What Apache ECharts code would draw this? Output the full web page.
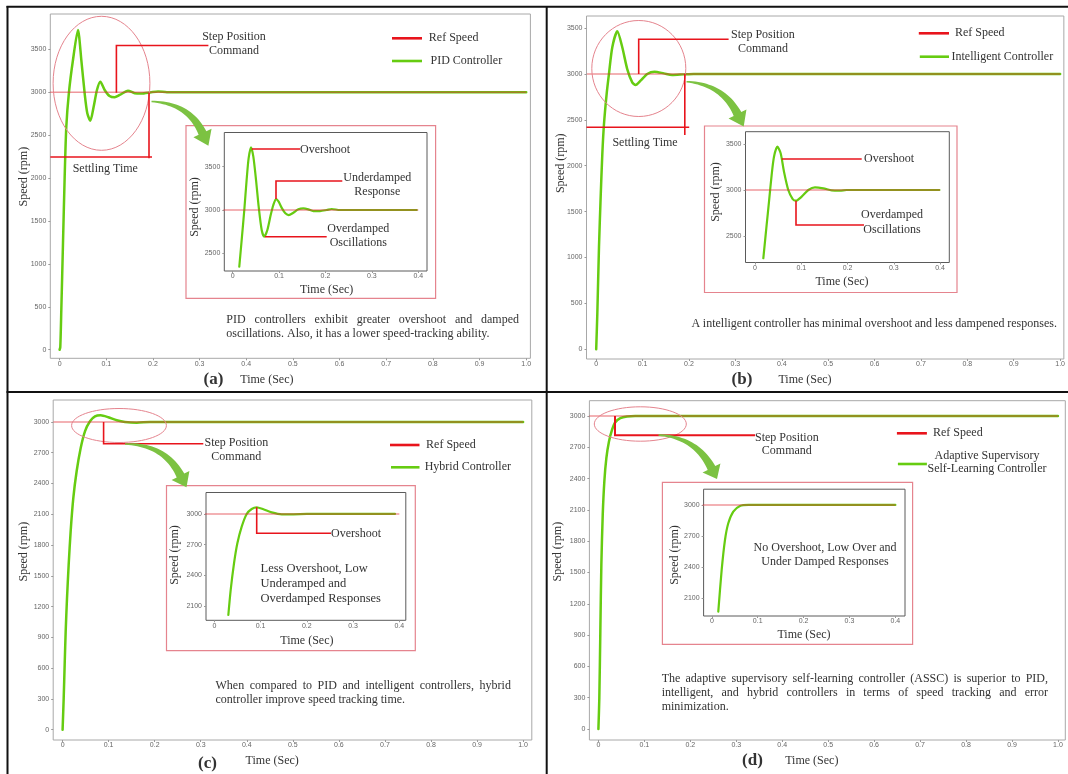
<!DOCTYPE html>
<html><head><meta charset="utf-8">
<script src="https://cdn.jsdelivr.net/npm/echarts@6/dist/echarts.min.js"></script>
<style>html,body{margin:0;padding:0;background:#fff}#c{width:1068px;height:774px}</style>
</head><body><div id="c"></div>
<script>
// ---------------- data ----------------
const speedTicksAB = [0, 500, 1000, 1500, 2000, 2500, 3000, 3500];
const speedTicksCD = [0, 300, 600, 900, 1200, 1500, 1800, 2100, 2400, 2700, 3000];
const insetTicksAB = [2500, 3000, 3500];
const insetTicksCD = [2100, 2400, 2700, 3000];
const timeTicks = [0, 0.1, 0.2, 0.3, 0.4, 0.5, 0.6, 0.7, 0.8, 0.9, 1.0];
const insetTimeTicks = [0, 0.1, 0.2, 0.3, 0.4];

const refTime = [-0.02, 1.0];
const refInsetTime = [-0.02, 0.4];
const refSpeed = [3000, 3000];

const pidTime = [0, 0.0015, 0.0037, 0.0073, 0.0109, 0.0144, 0.0201, 0.0287, 0.0394, 0.0466, 0.0537, 0.0594, 0.0659, 0.073, 0.0801, 0.0873, 0.0966, 0.107, 0.118, 0.1288, 0.1466, 0.161, 0.175, 0.1966, 0.211, 0.23, 1.0];
const pidSpeed = [0, 30, 462, 1240, 2016, 2598, 3000, 3375, 3725, 3375, 2988, 2754, 2668, 2831, 3026, 3123, 3026, 2956, 2941, 2968, 3018, 2988, 2985, 3000, 3008, 3000, 3000];
const pidInsetTime = [0.0142, 0.020, 0.025, 0.030, 0.0343, 0.0395, 0.0445, 0.0503, 0.056, 0.0625, 0.068, 0.0747, 0.0819, 0.0876, 0.0934, 0.099, 0.1063, 0.1135, 0.1207, 0.1307, 0.1415, 0.1523, 0.163, 0.1738, 0.1882, 0.2026, 0.2134, 0.231, 0.3966];
const pidInsetSpeed = [2345, 2692, 3000, 3346, 3597, 3724, 3616, 3346, 3038, 2769, 2692, 2769, 2942, 3058, 3127, 3096, 3019, 2962, 2942, 2969, 3008, 3019, 3008, 2988, 2988, 3000, 3012, 3000, 3000];

const intTime = [0, 0.0024, 0.006, 0.0096, 0.0132, 0.0168, 0.0225, 0.0275, 0.0347, 0.0455, 0.0562, 0.0669, 0.0777, 0.0849, 0.0956, 0.11, 0.1257, 0.1458, 0.1636, 0.1888, 0.21, 1.0];
const intSpeed = [0, 385, 1111, 1656, 2127, 2454, 2781, 2999, 3290, 3464, 3290, 3053, 2908, 2879, 2926, 2999, 3024, 3006, 2988, 2995, 3000, 3000];
const intInsetTime = [0.018, 0.0252, 0.0303, 0.036, 0.0411, 0.0483, 0.0555, 0.0627, 0.072, 0.0815, 0.0886, 0.101, 0.1153, 0.1297, 0.1477, 0.1658, 0.1838, 0.198, 0.3986];
const intInsetSpeed = [2258, 2620, 2873, 3163, 3362, 3471, 3399, 3199, 3000, 2902, 2884, 2928, 3000, 3029, 3018, 2996, 2993, 3000, 3000];

const hybTime = [0, 0.0024, 0.0045, 0.0067, 0.0096, 0.0132, 0.0175, 0.0233, 0.0305, 0.0393, 0.0486, 0.0595, 0.0704, 0.0827, 0.0993, 0.1175, 0.1355, 0.161, 0.19, 1.0];
const hybSpeed = [0, 309, 634, 959, 1284, 1609, 1934, 2259, 2519, 2746, 2909, 3007, 3055, 3065, 3046, 3017, 3000, 2993, 3000, 3000];
const hybInsetTime = [0.0303, 0.0354, 0.0426, 0.0498, 0.0592, 0.070, 0.0808, 0.0917, 0.106, 0.124, 0.1457, 0.171, 0.2, 0.3907];
const hybInsetSpeed = [2012, 2257, 2518, 2713, 2876, 3000, 3049, 3065, 3046, 3016, 2997, 2997, 3000, 3000];

const asscTime = [0, 0.002, 0.0042, 0.0064, 0.0094, 0.0129, 0.0173, 0.023, 0.0296, 0.0368, 0.0477, 0.0622, 0.08, 1.0];
const asscSpeed = [0, 297, 936, 1574, 2053, 2373, 2596, 2756, 2867, 2941, 2980, 2996, 3000, 3000];
const asscInsetTime = [0.014, 0.0214, 0.0286, 0.0358, 0.0467, 0.0613, 0.08, 0.40];
const asscInsetSpeed = [1971, 2373, 2662, 2823, 2936, 2990, 3000, 3000];

// ---------------- styles / layout ----------------
const SERIF = '"Liberation Serif", "Times New Roman", serif';
const TXT = '#333';
const RED = '#e8141c';
const GREEN = '#66cc11';
const PINK = '#e5848e';
const ARROW = '#7cc242';

const panels = [
  { main: [50.3, 14, 530.4, 358.3], mx: [-0.0199, 1.009], my: [-100, 3911], mt: speedTicksAB,
    inset: [224.3, 132.5, 427, 271], ix: [-0.0181, 0.4188], iy: [2296, 3895], it: insetTicksAB,
    t: pidTime, v: pidSpeed, ti: pidInsetTime, vi: pidInsetSpeed },
  { main: [586.5, 16, 1065, 359], mx: [-0.0209, 1.008], my: [-106, 3631], mt: speedTicksAB,
    inset: [745.5, 131.7, 949.3, 262.5], ix: [-0.0205, 0.420], iy: [2212, 3634], it: insetTicksAB,
    t: intTime, v: intSpeed, ti: intInsetTime, vi: intInsetSpeed },
  { main: [53.2, 400, 531.8, 740], mx: [-0.0204, 1.0189], my: [-100, 3214], mt: speedTicksCD,
    inset: [206, 492.5, 405.8, 620.3], ix: [-0.018, 0.414], iy: [1960, 3210], it: insetTicksCD,
    t: hybTime, v: hybSpeed, ti: hybInsetTime, vi: hybInsetSpeed },
  { main: [589.4, 400.7, 1065.3, 740], mx: [-0.0196, 1.016], my: [-105, 3147], mt: speedTicksCD,
    inset: [703.6, 489.2, 905, 616], ix: [-0.018, 0.421], iy: [1929, 3152], it: insetTicksCD,
    t: asscTime, v: asscSpeed, ti: asscInsetTime, vi: asscInsetSpeed }
];

const zip = (a, b) => a.map((x, i) => [x, b[i]]);
const fmtTime = v => (v === 0 ? '0' : v.toFixed(1));
const fmtSpeed = v => String(Math.round(v));

const grids = [], xAxes = [], yAxes = [], series = [];
function addGrid(box, xr, yr, xt, yt, border) {
  const idx = grids.length;
  grids.push({ left: box[0], top: box[1], width: box[2] - box[0], height: box[3] - box[1],
    show: true, borderColor: border, borderWidth: 1, backgroundColor: 'transparent' });
  const lab = { fontSize: 7, color: '#666', fontFamily: '"Liberation Sans", Arial, sans-serif' };
  xAxes.push({ type: 'value', gridIndex: idx, min: xr[0], max: xr[1],
    axisLine: { show: false, onZero: false }, splitLine: { show: false },
    axisTick: { show: true, customValues: xt, length: 2, lineStyle: { color: '#999' } },
    axisLabel: Object.assign({ customValues: xt, formatter: fmtTime, margin: 2 }, lab) });
  yAxes.push({ type: 'value', gridIndex: idx, min: yr[0], max: yr[1],
    axisLine: { show: false, onZero: false }, splitLine: { show: false },
    axisTick: { show: true, customValues: yt, length: 2, lineStyle: { color: '#999' } },
    axisLabel: Object.assign({ customValues: yt, formatter: fmtSpeed, margin: 4 }, lab) });
  return idx;
}
function addLines(idx, t, v, rt, width) {
  series.push({ type: 'line', xAxisIndex: idx, yAxisIndex: idx, data: zip(t, v), showSymbol: false,
    smooth: 0.25, clip: true, silent: true, z: 2,
    lineStyle: { color: GREEN, width: width, join: 'round', cap: 'round' }, itemStyle: { color: GREEN } });
  series.push({ type: 'line', xAxisIndex: idx, yAxisIndex: idx, data: zip(rt, refSpeed), showSymbol: false,
    clip: true, silent: true, z: 3,
    lineStyle: { color: '#e0303a', width: 1.5, opacity: 0.5 }, itemStyle: { color: RED } });
}
panels.forEach(p => {
  const m = addGrid(p.main, p.mx, p.my, timeTicks, p.mt, '#a8a8a8');
  addLines(m, p.t, p.v, refTime, 2.5);
  const n = addGrid(p.inset, p.ix, p.iy, insetTimeTicks, p.it, '#5a5a5a');
  addLines(n, p.ti, p.vi, refInsetTime, 2.2);
});

// ---------------- graphic helpers ----------------
const G = [];
const mctx = document.createElement('canvas').getContext('2d');
function tw(s, size, weight) { mctx.font = (weight || 'normal') + ' ' + size + 'px "Liberation Serif"'; return mctx.measureText(s).width; }
function text(s, x, y, size, align, opts) {
  opts = opts || {};
  G.push({ type: 'text', x: x, y: y, rotation: opts.rot || 0, z: 100,
    style: { text: s, fill: TXT, fontSize: size, fontFamily: SERIF, fontWeight: opts.bold ? 'bold' : 'normal',
      align: align || 'center', verticalAlign: 'middle' } });
}
function justify(s, x0, x1, y, size) {
  const words = s.split(' ');
  const ws = words.map(w => tw(w, size));
  const total = ws.reduce((a, b) => a + b, 0);
  const gap = (x1 - x0 - total) / (words.length - 1);
  let x = x0;
  words.forEach((w, i) => { text(w, x, y, size, 'left'); x += ws[i] + gap; });
}
function poly(points, color, width) {
  G.push({ type: 'polyline', z: 100, shape: { points: points }, style: { stroke: color, lineWidth: width, fill: null } });
}
function box(b, color, width) {
  G.push({ type: 'rect', z: 90, shape: { x: b[0], y: b[1], width: b[2] - b[0], height: b[3] - b[1] },
    style: { fill: null, stroke: color, lineWidth: width } });
}
function ellipse(cx, cy, rx, ry) {
  G.push({ type: 'ellipse', z: 100, shape: { cx: cx, cy: cy, rx: rx, ry: ry }, style: { fill: null, stroke: PINK, lineWidth: 1 } });
}
function arrow(S, E, T, w0, w1, hw) {
  const dx = T[0] - E[0], dy = T[1] - E[1], dl = Math.hypot(dx, dy);
  const ux = dx / dl, uy = dy / dl;
  const k = Math.hypot(E[0] - S[0], E[1] - S[1]) * 0.55;
  const C = [E[0] - ux * k, E[1] - uy * k];
  const L = [], R = [], N = 24;
  for (let i = 0; i <= N; i++) {
    const u = i / N;
    const px = (1 - u) * (1 - u) * S[0] + 2 * (1 - u) * u * C[0] + u * u * E[0];
    const py = (1 - u) * (1 - u) * S[1] + 2 * (1 - u) * u * C[1] + u * u * E[1];
    const tx = 2 * (1 - u) * (C[0] - S[0]) + 2 * u * (E[0] - C[0]);
    const ty = 2 * (1 - u) * (C[1] - S[1]) + 2 * u * (E[1] - C[1]);
    const tl = Math.hypot(tx, ty);
    const nx = -ty / tl, ny = tx / tl, w = (w0 + (w1 - w0) * u) / 2;
    L.push([px + nx * w, py + ny * w]); R.push([px - nx * w, py - ny * w]);
  }
  const nx = -uy, ny = ux;
  const pts = L.concat([[E[0] + nx * hw, E[1] + ny * hw], T, [E[0] - nx * hw, E[1] - ny * hw]], R.reverse());
  G.push({ type: 'polygon', z: 110, shape: { points: pts }, style: { fill: ARROW, stroke: null } });
}
function legend(x0, x1, y1, y2, gx0, label1x, label2, label2x) {
  poly([[x0, y1], [x1, y1]], RED, 2.6);
  poly([[gx0, y2], [x1, y2]], GREEN, 2.6);
  text('Ref Speed', label1x, y1, 12, 'left');
  if (label2) text(label2, label2x, y2, 12, 'left');
}

// ---------------- frame ----------------
G.push({ type: 'line', z: 120, shape: { x1: 6.5, y1: 6.7, x2: 1068, y2: 6.7 }, style: { stroke: '#111', lineWidth: 2 } });
G.push({ type: 'line', z: 120, shape: { x1: 7.5, y1: 6, x2: 7.5, y2: 774 }, style: { stroke: '#111', lineWidth: 2 } });
G.push({ type: 'line', z: 120, shape: { x1: 546.7, y1: 6, x2: 546.7, y2: 774 }, style: { stroke: '#111', lineWidth: 2 } });
G.push({ type: 'line', z: 120, shape: { x1: 6.5, y1: 392, x2: 1068, y2: 392 }, style: { stroke: '#111', lineWidth: 2 } });

// ---------------- panel (a) ----------------
text('Speed (rpm)', 23.4, 176.7, 12, 'center', { rot: Math.PI / 2 });
text('(a)', 213.5, 380, 17, 'center', { bold: true });
text('Time (Sec)', 266.9, 380, 12);
ellipse(101.5, 83.3, 48.4, 67);
poly([[116.4, 92.7], [116.4, 45.5], [208.4, 45.5]], RED, 1.6);
text('Step Position', 234, 36.7, 12); text('Command', 234, 51, 12);
poly([[149, 92.7], [149, 158.3]], RED, 1.6);
poly([[50.3, 157], [152, 157]], RED, 1.6);
text('Settling Time', 105.3, 169.3, 12);
legend(392, 422, 38.3, 61, 392, 428.8, 'PID Controller', 430.5);
box([186, 125.7, 435.6, 298.3], PINK, 1.2);
arrow([151.5, 101.5], [202.5, 133], [208.4, 145.7], 1.5, 8.5, 10);
text('Speed (rpm)', 195, 207, 12, 'center', { rot: Math.PI / 2 });
text('Time (Sec)', 326.7, 290, 12);
poly([[251.7, 149], [300, 149]], RED, 1.6);
text('Overshoot', 300, 150, 12, 'left');
poly([[276, 199], [276, 181], [342.3, 181]], RED, 1.6);
text('Underdamped', 377.3, 178.3, 12); text('Response', 377.3, 191.7, 12);
poly([[265, 236.7], [326.7, 236.7]], RED, 1.6);
text('Overdamped', 358.3, 229, 12); text('Oscillations', 358.3, 243.3, 12);
justify('PID controllers exhibit greater overshoot and damped', 226.3, 519, 320, 12);
text('oscillations. Also, it has a lower speed-tracking ability.', 226.3, 334.3, 12, 'left');

// ---------------- panel (b) ----------------
text('Speed (rpm)', 560.9, 163.3, 12, 'center', { rot: Math.PI / 2 });
text('(b)', 742, 380, 17, 'center', { bold: true });
text('Time (Sec)', 805, 380, 12);
ellipse(638.8, 68.5, 47, 48);
poly([[638.7, 74], [638.7, 39.3], [728.6, 39.3]], RED, 1.6);
text('Step Position', 762.9, 34.7, 12); text('Command', 762.9, 49, 12);
poly([[684.8, 74], [684.8, 135]], RED, 1.6);
poly([[586.5, 127.3], [689.2, 127.3]], RED, 1.6);
text('Settling Time', 645, 142.7, 12);
legend(918.8, 949, 33.3, 56.7, 919.8, 954.9, 'Intelligent Controller', 951.5);
box([704.5, 126, 957, 292.5], PINK, 1.2);
arrow([686.5, 81.7], [737.5, 114], [743.7, 126.5], 1.5, 8.5, 10);
text('Speed (rpm)', 715.5, 192, 12, 'center', { rot: Math.PI / 2 });
text('Time (Sec)', 842, 282, 12);
poly([[781.7, 159], [861.7, 159]], RED, 1.6);
text('Overshoot', 864, 159, 12, 'left');
poly([[796, 200.7], [796, 225], [864, 225]], RED, 1.6);
text('Overdamped', 892, 215, 12); text('Oscillations', 892, 230, 12);
justify('A intelligent controller has minimal overshoot and less dampened responses.', 691.5, 1056.9, 324.3, 12);

// ---------------- panel (c) ----------------
text('Speed (rpm)', 24.3, 551.7, 12, 'center', { rot: Math.PI / 2 });
text('(c)', 207.5, 763.3, 17, 'center', { bold: true });
text('Time (Sec)', 272.2, 761, 12);
ellipse(119, 425.5, 47.4, 17);
poly([[103.6, 422], [103.6, 443.7], [203.3, 443.7]], RED, 1.6);
text('Step Position', 236.3, 443, 12); text('Command', 236.3, 456.7, 12);
legend(390, 419.5, 445, 467.3, 391, 426.1, 'Hybrid Controller', 424.7);
box([166.5, 485.7, 415.3, 650.7], PINK, 1.2);
arrow([125, 444], [180.5, 475.5], [186.5, 487.3], 1.5, 8.5, 10);
text('Speed (rpm)', 174.8, 555, 12, 'center', { rot: Math.PI / 2 });
text('Time (Sec)', 306.9, 640.7, 12);
poly([[256.7, 507.3], [256.7, 533.3], [331, 533.3]], RED, 1.6);
text('Overshoot', 331, 534, 12, 'left');
text('Less Overshoot, Low', 260.5, 568.3, 12.5, 'left');
text('Underamped and', 260.5, 583.7, 12.5, 'left');
text('Overdamped Responses', 260.5, 598.3, 12.5, 'left');
justify('When compared to PID and intelligent controllers, hybrid', 215.5, 510.9, 686, 12);
text('controller improve speed tracking time.', 215.5, 700, 12, 'left');

// ---------------- panel (d) ----------------
text('Speed (rpm)', 558.3, 551.7, 12, 'center', { rot: Math.PI / 2 });
text('(d)', 752.5, 761, 17, 'center', { bold: true });
text('Time (Sec)', 811.8, 761, 12);
ellipse(640.3, 424, 46, 17.2);
poly([[615, 416], [615, 435.2], [755.1, 435.2]], RED, 2);
text('Step Position', 786.8, 437.7, 12); text('Command', 786.8, 451, 12);
legend(896.9, 926.9, 433.3, 464, 897.9, 933, null, 0);
text('Adaptive Supervisory', 987, 455.5, 12); text('Self-Learning Controller', 987, 468.5, 12);
box([662.4, 482.3, 912.6, 644.3], PINK, 1.2);
arrow([658.5, 435], [711.5, 468], [717, 479], 1.5, 8.5, 10);
text('Speed (rpm)', 675, 555, 12, 'center', { rot: Math.PI / 2 });
text('Time (Sec)', 804, 635, 12);
text('No Overshoot, Low Over and', 825, 548.3, 12);
text('Under Damped Responses', 825, 561.7, 12);
justify('The adaptive supervisory self-learning controller (ASSC) is superior to PID,', 661.7, 1048, 679, 12);
justify('intelligent, and hybrid controllers in terms of speed tracking and error', 661.7, 1048, 693.3, 12);
text('minimization.', 661.7, 707.3, 12, 'left');

const chart = echarts.init(document.getElementById('c'), null, { renderer: 'canvas', width: 1068, height: 774 });
chart.setOption({
  backgroundColor: '#fff', animation: false,
  grid: grids, xAxis: xAxes, yAxis: yAxes, series: series,
  graphic: { elements: G }
});
</script>
</body></html>
